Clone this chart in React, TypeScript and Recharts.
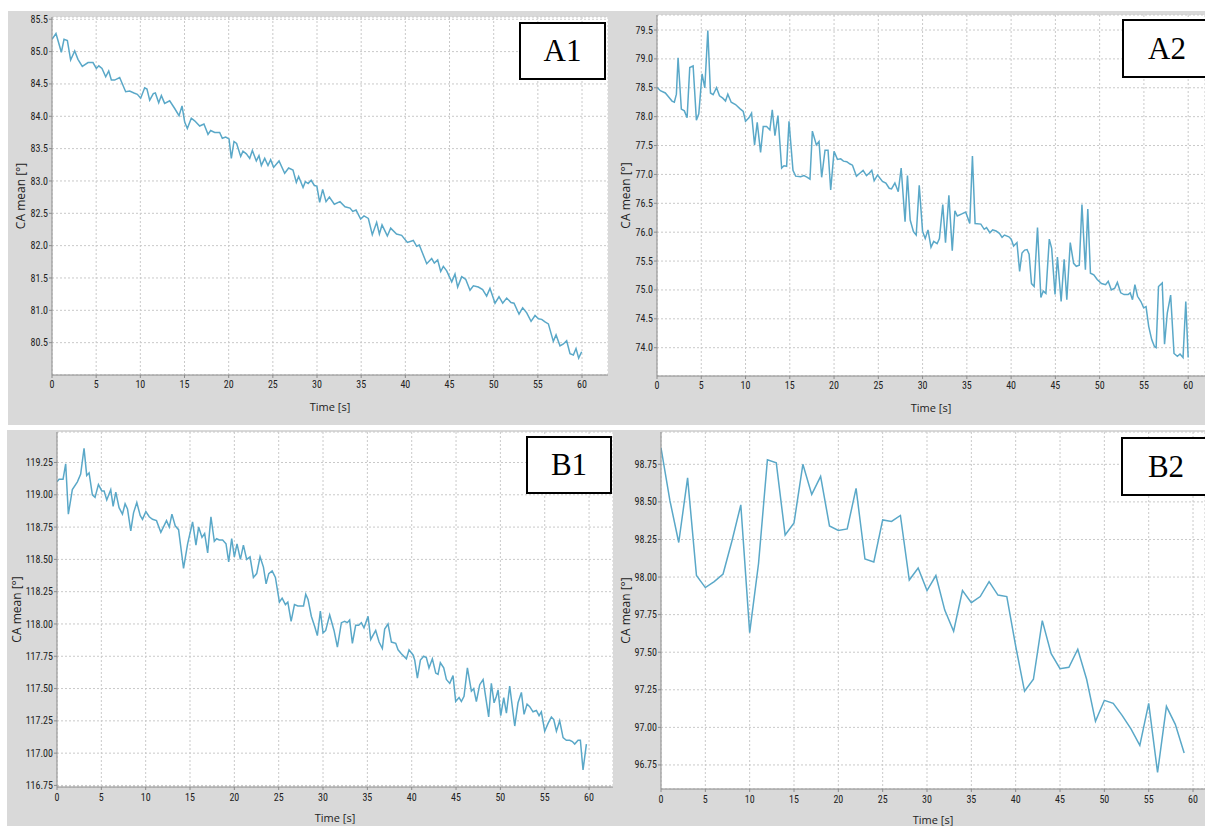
import { LineChart, Line, XAxis, YAxis, CartesianGrid } from 'recharts';

// tick labels
const timeTicks = [0, 5, 10, 15, 20, 25, 30, 35, 40, 45, 50, 55, 60];
const a1Ticks = [80.5, 81.0, 81.5, 82.0, 82.5, 83.0, 83.5, 84.0, 84.5, 85.0, 85.5];
const a2Ticks = [74.0, 74.5, 75.0, 75.5, 76.0, 76.5, 77.0, 77.5, 78.0, 78.5, 79.0, 79.5];
const b1Ticks = [116.75, 117.0, 117.25, 117.5, 117.75, 118.0, 118.25, 118.5, 118.75, 119.0, 119.25];
const b2Ticks = [96.75, 97.0, 97.25, 97.5, 97.75, 98.0, 98.25, 98.5, 98.75];

// A1
const a1Time = [
  0, 0.45, 1.06, 1.36, 1.74, 2.11, 2.57, 2.94, 3.43, 4.08, 4.64, 5.02, 5.3, 5.66, 6.08, 6.42, 6.72, 7.09, 7.66,
  8.34, 8.79, 9.28, 9.66, 10.04, 10.49, 10.75, 11.06, 11.47, 11.7, 12.08, 12.38, 12.75, 13.32, 13.89, 14.38,
  14.72, 15.02, 15.32, 15.77, 16.15, 16.72, 17.2, 17.66, 17.96, 18.42, 18.98, 19.28, 19.66, 20.04, 20.3, 20.6,
  20.9, 21.36, 21.62, 22.0, 22.38, 22.68, 23.13, 23.43, 23.7, 24.08, 24.45, 24.75, 25.09, 25.7, 26.34, 26.79,
  27.28, 27.66, 27.92, 28.42, 28.68, 29.0, 29.34, 29.7, 29.98, 30.3, 30.64, 31.02, 31.4, 31.96, 32.6, 33.17,
  33.74, 34.04, 34.42, 34.94, 35.32, 35.81, 36.26, 36.75, 37.06, 37.36, 37.96, 38.34, 39.0, 39.58, 40.23, 40.9,
  41.28, 41.58, 42.42, 42.98, 43.28, 43.66, 44.0, 44.3, 44.68, 45.25, 45.62, 45.92, 46.38, 46.83, 47.32, 47.7,
  48.26, 48.75, 49.2, 49.58, 50.15, 50.6, 51.02, 51.47, 51.96, 52.3, 52.87, 53.28, 53.74, 54.23, 54.68, 55.06,
  55.43, 55.81, 56.19, 56.75, 57.06, 57.51, 57.89, 58.26, 58.64, 59.02, 59.32, 59.62, 59.96,
];
const a1Angle = [
  85.19, 85.28, 84.99, 85.19, 85.17, 84.87, 85.01, 84.88, 84.77, 84.83, 84.83, 84.74, 84.78, 84.74, 84.61, 84.7,
  84.56, 84.56, 84.6, 84.38, 84.39, 84.36, 84.34, 84.28, 84.44, 84.42, 84.25, 84.35, 84.36, 84.21, 84.32, 84.2,
  84.24, 84.12, 84.01, 84.16, 83.91, 83.81, 83.97, 83.93, 83.85, 83.88, 83.72, 83.78, 83.75, 83.75, 83.66, 83.68,
  83.65, 83.35, 83.61, 83.58, 83.38, 83.46, 83.42, 83.35, 83.47, 83.31, 83.39, 83.24, 83.35, 83.24, 83.33, 83.21,
  83.31, 83.12, 83.2, 83.17, 82.98, 83.07, 82.9, 82.99, 82.96, 83.01, 82.93, 82.92, 82.67, 82.87, 82.68, 82.75,
  82.64, 82.68, 82.6, 82.58, 82.53, 82.55, 82.41, 82.46, 82.42, 82.17, 82.36, 82.18, 82.32, 82.15, 82.27, 82.18,
  82.16, 82.05, 82.08, 81.99, 82.01, 81.72, 81.8, 81.73, 81.78, 81.6, 81.68, 81.61, 81.44, 81.56, 81.36, 81.52,
  81.48, 81.31, 81.38, 81.36, 81.32, 81.22, 81.34, 81.11, 81.21, 81.11, 81.19, 81.12, 81.11, 80.94, 81.04, 80.96,
  80.83, 80.92, 80.87, 80.86, 80.82, 80.79, 80.52, 80.62, 80.45, 80.48, 80.53, 80.33, 80.31, 80.41, 80.26, 80.36,
];

// A2
const a2Time = [
  0, 0.38, 0.94, 1.32, 1.7, 1.96, 2.19, 2.38, 2.75, 3.09, 3.4, 3.7, 4.08, 4.45, 4.72, 5.09, 5.4, 5.74, 6.04, 6.34,
  6.72, 7.06, 7.43, 7.74, 8.0, 8.38, 8.87, 9.36, 9.74, 10.0, 10.38, 10.68, 11.02, 11.32, 11.7, 12.0, 12.38, 12.75,
  13.02, 13.32, 13.66, 14.08, 14.34, 14.64, 14.91, 15.36, 15.66, 16.23, 16.6, 16.98, 17.28, 17.55, 18.0, 18.3,
  18.6, 18.98, 19.32, 19.62, 20.0, 20.38, 20.75, 21.06, 21.43, 21.81, 22.08, 22.53, 22.91, 23.28, 23.66, 23.96,
  24.26, 24.53, 24.91, 25.47, 25.85, 26.23, 26.49, 26.87, 27.25, 27.58, 28.02, 28.29, 28.6, 28.97, 29.28, 29.62,
  30.0, 30.3, 30.61, 30.95, 31.26, 31.64, 31.9, 32.28, 32.59, 32.97, 33.35, 33.65, 33.92, 34.49, 34.87, 35.33,
  35.63, 35.93, 36.58, 36.96, 37.22, 37.6, 37.91, 38.3, 38.68, 38.98, 39.25, 39.75, 40.01, 40.28, 40.66, 40.96,
  41.23, 41.53, 41.8, 42.03, 42.3, 42.6, 42.98, 43.36, 43.63, 43.93, 44.31, 44.58, 44.96, 45.23, 45.65, 45.99,
  46.29, 46.68, 47.06, 47.36, 47.7, 48.0, 48.39, 48.66, 48.96, 49.34, 49.72, 50.21, 50.67, 50.97, 51.32, 51.7,
  52.0, 52.38, 52.76, 53.22, 53.45, 53.71, 53.98, 54.28, 54.66, 54.97, 55.24, 55.54, 55.88, 56.19, 56.38, 56.65,
  57.07, 57.33, 57.64, 58.02, 58.4, 58.78, 59.08, 59.42, 59.73, 60.0,
];
const a2Angle = [
  78.51, 78.45, 78.41, 78.34, 78.27, 78.25, 78.39, 79.02, 78.13, 78.1, 77.98, 78.85, 78.88, 77.94, 78.05, 78.74,
  78.5, 79.49, 78.41, 78.38, 78.5, 78.36, 78.32, 78.27, 78.39, 78.25, 78.21, 78.14, 78.09, 77.92, 77.98, 78.06,
  77.51, 77.9, 77.38, 77.83, 77.83, 77.77, 78.12, 77.67, 78.02, 77.11, 77.15, 77.14, 77.92, 77.07, 76.97, 76.96,
  76.98, 76.95, 76.92, 77.75, 77.51, 77.57, 76.95, 77.42, 77.42, 76.73, 77.4, 77.26, 77.27, 77.23, 77.22, 77.18,
  77.16, 76.97, 77.02, 77.07, 76.98, 77.02, 77.07, 76.89, 76.99, 76.88, 76.85, 76.76, 76.75, 76.85, 76.7, 77.11,
  76.18, 76.98, 76.21, 76.01, 75.95, 76.81, 76.01, 75.89, 76.04, 75.74, 75.84, 75.8, 75.89, 76.48, 75.82, 76.64,
  75.68, 76.37, 76.28, 76.32, 76.35, 76.15, 77.32, 76.15, 76.14, 76.05, 76.08, 75.99, 76.04, 76.02, 75.98, 75.91,
  75.95, 75.92, 75.88, 75.76, 75.82, 75.32, 75.64, 75.69, 75.7, 75.62, 75.11, 75.06, 76.08, 74.87, 74.98, 74.94,
  75.88, 75.72, 74.92, 75.57, 74.8, 75.53, 74.83, 75.82, 75.46, 75.41, 75.43, 76.48, 75.35, 76.4, 75.29, 75.26,
  75.18, 75.11, 75.09, 75.15, 75.0, 75.03, 75.13, 74.95, 74.92, 74.92, 74.95, 74.83, 75.09, 74.89, 74.8, 74.69,
  74.71, 74.37, 74.14, 74.02, 74.0, 75.06, 75.12, 74.06, 74.6, 74.91, 73.9, 73.85, 73.89, 73.83, 74.8, 73.83,
];

// B1
const b1Time = [
  0, 0.23, 0.68, 0.98, 1.28, 1.73, 2.3, 2.67, 3.05, 3.35, 3.62, 3.99, 4.29, 4.67, 5.05, 5.31, 5.61, 6.06, 6.33,
  6.63, 7.0, 7.38, 7.68, 7.95, 8.32, 8.63, 9.0, 9.38, 9.64, 10.02, 10.4, 10.77, 11.22, 11.71, 12.35, 12.66, 12.96,
  13.33, 13.71, 14.27, 14.73, 15.29, 15.67, 15.97, 16.35, 16.65, 16.99, 17.36, 17.74, 18.0, 18.3, 18.68, 19.06,
  19.36, 19.7, 20.0, 20.3, 20.68, 21.02, 21.39, 21.77, 22.15, 22.52, 22.9, 23.28, 23.58, 23.88, 24.26, 24.63,
  25.08, 25.39, 25.76, 26.03, 26.4, 26.78, 27.16, 27.53, 27.8, 28.05, 28.31, 28.68, 29.06, 29.36, 29.7, 30.0,
  30.3, 30.75, 31.24, 31.62, 32.07, 32.44, 32.74, 33.0, 33.31, 33.68, 34.02, 34.32, 34.62, 35.08, 35.38, 35.94,
  36.32, 36.69, 36.95, 37.33, 37.71, 38.2, 38.46, 38.83, 39.4, 39.7, 40.15, 40.34, 40.64, 40.98, 41.35, 41.65,
  41.95, 42.33, 42.71, 42.97, 43.23, 43.61, 43.91, 44.29, 44.66, 44.96, 45.34, 45.6, 45.9, 46.28, 46.73, 46.99,
  47.29, 47.67, 48.05, 48.68, 48.98, 49.29, 49.55, 49.74, 50.04, 50.38, 50.68, 51.05, 51.62, 51.99, 52.37, 52.67,
  53.01, 53.31, 53.68, 54.06, 54.36, 54.62, 55.0, 55.38, 55.75, 56.02, 56.32, 56.69, 57.07, 57.44, 57.82, 58.12,
  58.38, 58.76, 59.02, 59.32, 59.7,
];
const b1Angle = [
  119.1, 119.12, 119.12, 119.24, 118.85, 119.04, 119.1, 119.16, 119.36, 119.15, 119.17, 119.0, 118.98, 119.08,
  119.03, 119.03, 118.96, 119.04, 118.91, 119.02, 118.9, 118.85, 118.93, 118.89, 118.72, 118.86, 118.94, 118.84,
  118.81, 118.87, 118.83, 118.81, 118.8, 118.71, 118.8, 118.75, 118.85, 118.76, 118.73, 118.43, 118.62, 118.79,
  118.61, 118.75, 118.67, 118.7, 118.55, 118.83, 118.64, 118.66, 118.65, 118.65, 118.62, 118.48, 118.66, 118.52,
  118.62, 118.5, 118.61, 118.5, 118.52, 118.36, 118.39, 118.52, 118.44, 118.31, 118.39, 118.41, 118.36, 118.17,
  118.2, 118.15, 118.17, 118.02, 118.15, 118.14, 118.14, 118.14, 118.23, 118.19, 118.06, 117.98, 117.91, 118.1,
  117.93, 117.95, 118.07, 117.95, 117.82, 118.01, 118.02, 118.01, 118.03, 117.85, 117.99, 117.99, 118.01, 117.97,
  118.06, 117.88, 117.95, 117.86, 117.81, 117.96, 118.0, 117.86, 117.85, 117.8, 117.77, 117.73, 117.8, 117.76,
  117.72, 117.58, 117.72, 117.75, 117.74, 117.66, 117.73, 117.62, 117.61, 117.7, 117.66, 117.57, 117.54, 117.6,
  117.4, 117.43, 117.4, 117.44, 117.66, 117.48, 117.5, 117.4, 117.53, 117.57, 117.28, 117.54, 117.39, 117.44,
  117.49, 117.29, 117.43, 117.31, 117.52, 117.21, 117.39, 117.47, 117.3, 117.38, 117.36, 117.32, 117.33, 117.29,
  117.32, 117.17, 117.23, 117.28, 117.26, 117.17, 117.25, 117.12, 117.1, 117.1, 117.09, 117.07, 117.1, 117.1,
  116.87, 117.07,
];

// B2
const b2Time = [
  0, 1, 2, 3, 4, 5, 6, 7, 8, 9, 10, 11, 12, 13, 14, 15, 16, 17, 18, 19, 20, 21, 22, 23, 24, 25, 26, 27, 28, 29,
  30, 31, 32, 33, 34, 35, 36, 37, 38, 39, 40, 41, 42, 43, 44, 45, 46, 47, 48, 49, 50, 51, 52, 53, 54, 55, 56, 57,
  58, 59,
];
const b2Angle = [
  98.86, 98.51, 98.23, 98.66, 98.01, 97.93, 97.97, 98.02, 98.24, 98.48, 97.63, 98.09, 98.78, 98.76, 98.28, 98.36,
  98.75, 98.55, 98.67, 98.34, 98.31, 98.32, 98.59, 98.12, 98.1, 98.38, 98.37, 98.41, 97.98, 98.06, 97.91, 98.01,
  97.78, 97.64, 97.91, 97.83, 97.87, 97.97, 97.88, 97.87, 97.54, 97.24, 97.32, 97.71, 97.49, 97.39, 97.4, 97.52,
  97.32, 97.04, 97.18, 97.16, 97.08, 96.99, 96.88, 97.16, 96.7, 97.14, 97.02, 96.83,
];

const tickFont = "'Liberation Sans Narrow', 'Roboto Condensed', Roboto, sans-serif";
const titleFont = "'Open Sans', 'Noto Sans', sans-serif";
const lineColor = '#5aa8c8';

type PanelProps = {
  name: string;
  time: number[];
  angle: number[];
  left: number;
  top: number;
  width: number;
  height: number;
  marginTop: number;
  yWidth: number;
  xHeight: number;
  xMax: number;
  yDomain: [number, number];
  yTicks: number[];
  digits: number;
  yTitleOffset: number;
  xTitleOffset: number;
  tickGap: number;
  box: { left: number; top: number; width: number; height: number };
};

const Panel = (p: PanelProps) => {
  const data = p.time.map((t, i) => ({ t, v: p.angle[i] }));
  return (
    <>
      <div style={{ position: 'absolute', left: p.left, top: p.top }}>
        <LineChart
          width={p.width}
          height={p.height}
          data={data}
          margin={{ top: p.marginTop, right: 0, left: 0, bottom: 0 }}
        >
          <CartesianGrid stroke="#c9c9c9" strokeDasharray="2 2" fill="#ffffff" />
          <XAxis
            dataKey="t"
            type="number"
            domain={[0, p.xMax]}
            ticks={timeTicks}
            interval={0}
            allowDataOverflow
            height={p.xHeight}
            tickSize={3}
            tickMargin={p.tickGap}
            stroke="#8c8c8c"
            tick={{ fontSize: 10, fill: '#222', fontFamily: tickFont }}
            label={{
              value: 'Time [s]',
              position: 'insideBottom',
              offset: p.xTitleOffset,
              style: { fontSize: 11, fill: '#222', fontFamily: titleFont },
            }}
          />
          <YAxis
            type="number"
            domain={p.yDomain}
            ticks={p.yTicks}
            interval={0}
            allowDataOverflow
            width={p.yWidth}
            tickSize={3}
            tickMargin={1}
            stroke="#8c8c8c"
            tickFormatter={(v: number) => v.toFixed(p.digits)}
            tick={{ fontSize: 10, fill: '#222', fontFamily: tickFont }}
            label={{
              value: 'CA mean [°]',
              angle: -90,
              position: 'insideLeft',
              offset: p.yTitleOffset,
              style: { fontSize: 12, fill: '#222', fontFamily: titleFont, textAnchor: 'middle' },
            }}
          />
          <Line
            type="linear"
            dataKey="v"
            stroke={lineColor}
            strokeWidth={1.5}
            dot={false}
            isAnimationActive={false}
          />
        </LineChart>
      </div>
      <div
        style={{
          position: 'absolute',
          left: p.box.left,
          top: p.box.top,
          width: p.box.width,
          height: p.box.height,
          boxSizing: 'border-box',
          border: '2px solid #000',
          background: '#fff',
          fontFamily: "'Liberation Serif', 'Times New Roman', serif",
          fontSize: 31,
          display: 'flex',
          alignItems: 'center',
          justifyContent: 'center',
          color: '#000',
        }}
      >
        {p.name}
      </div>
    </>
  );
};

export default function App() {
  return (
    <div
      style={{
        position: 'absolute',
        left: 0,
        top: 0,
        width: 1205,
        height: 826,
        overflow: 'hidden',
        background: '#fff',
      }}
    >
      <div style={{ position: 'absolute', left: 8, top: 11, width: 1197, height: 414, background: '#d9d9d9' }} />
      <div style={{ position: 'absolute', left: 7, top: 430, width: 1198, height: 396, background: '#d9d9d9' }} />
      <Panel
        name="A1"
        time={a1Time}
        angle={a1Angle}
        left={8}
        top={11}
        width={600}
        height={414}
        marginTop={6}
        yWidth={44}
        xHeight={50}
        xMax={62.94}
        yDomain={[80.0, 85.535]}
        yTicks={a1Ticks}
        digits={1}
        yTitleOffset={13}
        xTitleOffset={14}
        tickGap={3}
        box={{ left: 519, top: 22, width: 87, height: 58 }}
      />
      <Panel
        name="A2"
        time={a2Time}
        angle={a2Angle}
        left={612}
        top={11}
        width={593}
        height={414}
        marginTop={4}
        yWidth={45}
        xHeight={49}
        xMax={61.9}
        yDomain={[73.51, 79.76]}
        yTicks={a2Ticks}
        digits={1}
        yTitleOffset={14}
        xTitleOffset={13}
        tickGap={3}
        box={{ left: 1122, top: 19, width: 90, height: 59 }}
      />
      <Panel
        name="B1"
        time={b1Time}
        angle={b1Angle}
        left={7}
        top={430}
        width={606}
        height={396}
        marginTop={2}
        yWidth={50}
        xHeight={39}
        xMax={62.7}
        yDomain={[116.738, 119.486]}
        yTicks={b1Ticks}
        digits={2}
        yTitleOffset={10}
        xTitleOffset={4}
        tickGap={4}
        box={{ left: 526, top: 436, width: 86, height: 58 }}
      />
      <Panel
        name="B2"
        time={b2Time}
        angle={b2Angle}
        left={614}
        top={430}
        width={591}
        height={396}
        marginTop={2}
        yWidth={47}
        xHeight={37}
        xMax={61.35}
        yDomain={[96.59, 98.965]}
        yTicks={b2Ticks}
        digits={2}
        yTitleOffset={12}
        xTitleOffset={2}
        tickGap={4}
        box={{ left: 1121, top: 437, width: 90, height: 59 }}
      />
    </div>
  );
}
